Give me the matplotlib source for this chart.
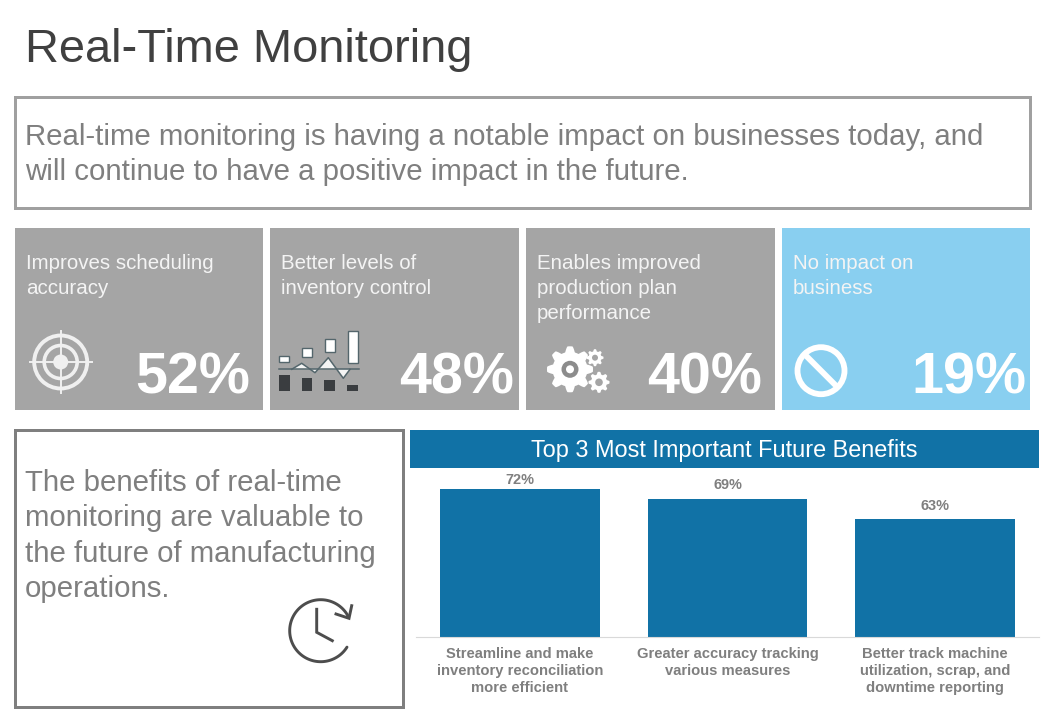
import numpy as np
import matplotlib
matplotlib.use("Agg")
import matplotlib.pyplot as plt
from matplotlib.patches import Rectangle, Circle, Polygon

plt.rcParams['font.family'] = ['Liberation Sans', 'DejaVu Sans']

# ---- data ----
title = "Real-Time Monitoring"
intro_lines = ["Real-time monitoring is having a notable impact on businesses today, and",
               "will continue to have a positive impact in the future."]
card_labels = [["Improves scheduling", "accuracy"],
               ["Better levels of", "inventory control"],
               ["Enables improved", "production plan", "performance"],
               ["No impact on", "business"]]
card_values = [52, 48, 40, 19]
side_lines = ["The benefits of real-time", "monitoring are valuable to",
              "the future of manufacturing", "operations."]
chart_title = "Top 3 Most Important Future Benefits"
bar_labels = ["Streamline and make\ninventory reconciliation\nmore efficient",
              "Greater accuracy tracking\nvarious measures",
              "Better track machine\nutilization, scrap, and\ndowntime reporting"]
bar_values = [72, 69, 63]

GREY = "#a5a5a5"; BLUE = "#89cff0"; TXT = "#7f7f7f"; DARK = "#404040"; BAR = "#1172a6"
W, H = 1054, 720
px = 0.72  # px -> pt at dpi 100

fig = plt.figure(figsize=(W/100, H/100), dpi=100, facecolor="white")
bg = fig.add_axes([0, 0, 1, 1])
bg.set_xlim(0, W); bg.set_ylim(H, 0); bg.axis("off")

def T(x, y, s, size, color, **kw):
    bg.text(x, y, s, fontsize=size*px, color=color, va="baseline", **kw)

T(25, 62, title, 47, DARK)

bg.add_patch(Rectangle((15, 96.5), 1015, 111.5, fc="white", ec="#a0a0a0", lw=2.16))
for y, s in zip([145, 180], intro_lines):
    T(25, y, s, 29.35, TXT)

# cards
cx0 = [15, 270, 526, 782]; cx1 = [263, 519, 775, 1030]
vx = [250.5, 514.5, 762.5, 1026.5]
for i in range(4):
    c = BLUE if i == 3 else GREY
    bg.add_patch(Rectangle((cx0[i], 228), cx1[i]-cx0[i], 182, fc=c, ec="none"))
    for j, s in enumerate(card_labels[i]):
        T(cx0[i]+11, 269+25*j, s, 20.5, "#f4f4f4")
    T(vx[i], 393, f"{card_values[i]}%", 57.5, "white", ha="right", fontweight="bold")

# target icon
tc = "#f0f0f0"; tx, ty = 60.7, 362
bg.add_patch(Circle((tx, ty), 26.5, fc="none", ec=tc, lw=2.8))
bg.add_patch(Circle((tx, ty), 16.5, fc="none", ec=tc, lw=2.6))
bg.add_patch(Circle((tx, ty), 7.5, fc=tc, ec="none"))
bg.plot([tx-31, tx+31], [ty, ty], color=tc, lw=1.4)
bg.plot([tx, tx], [ty-31, ty+31], color=tc, lw=1.4)

# mini chart icon
edge = "#54666c"; dk = "#3a3d40"
for x0, y0, y1 in [(279, 355.7, 362), (302, 347.7, 357), (325, 338.7, 351.7), (347.5, 331.3, 362.7)]:
    bg.add_patch(Rectangle((x0, y0), 10, y1-y0, fc="white", ec=edge, lw=1))
for x0, y0 in [(279, 375.3), (301.7, 378.3), (324.3, 380.3), (347.3, 385.3)]:
    bg.add_patch(Rectangle((x0, y0), 10.5, 390.7-y0, fc=dk, ec="none"))
zx = [291.7, 301.7, 315, 328.3, 343.3, 350]
zy = [369.3, 363.3, 372.7, 357.7, 378.3, 369.3]
bg.add_patch(Polygon(list(zip(zx, zy)), fc="#f4f4f4", ec="none"))
bg.plot(zx, zy, color=edge, lw=1.1)
bg.plot([279, 359], [369.3, 369.3], color=edge, lw=1.1)

# gears
def gear(cx, cy, r, teeth, hole, fc, hole_c, ring=None):
    a = np.linspace(0, 2*np.pi, teeth*40, endpoint=False)
    rr = r*(0.88 + 0.12*np.clip(1.6*np.cos(teeth*a), -1, 1))
    bg.add_patch(Polygon(np.c_[cx+rr*np.cos(a), cy+rr*np.sin(a)], fc=fc, ec="none"))
    bg.add_patch(Circle((cx, cy), hole, fc=hole_c, ec="none"))
    if ring:
        bg.add_patch(Circle((cx, cy), ring, fc=fc, ec="none"))
gear(570, 369.3, 23, 8, 8.5, "white", "#8c8c8c", 4)
gear(595, 357.7, 8.5, 8, 3, "white", GREY)
gear(599, 382.3, 10.5, 8, 3.8, "white", GREY)

# no-entry icon
nx, ny, nr = 821, 370.7, 23.5
bg.add_patch(Circle((nx, ny), nr, fc="none", ec="white", lw=4.2))
d = nr*np.cos(np.pi/4)
bg.plot([nx-d, nx+d], [ny-d, ny+d], color="white", lw=4.2, solid_capstyle="butt")

# lower-left box
bg.add_patch(Rectangle((15, 429.5), 388, 277, fc="white", ec="#7f7f7f", lw=2.16))
for y, s in zip([491, 526, 562, 597], side_lines):
    T(25, y, s, 29.35, TXT)

# clock icon
ck = "#4d4d4d"; ccx, ccy, cr = 320.7, 630.7, 31
ang = np.radians(np.linspace(32, 333, 120))
bg.plot(ccx+cr*np.cos(ang), ccy+cr*np.sin(ang), color=ck, lw=2.1, solid_capstyle="round")
bg.plot([351.7, 349, 336], [605.7, 618.3, 614], color=ck, lw=2.1, solid_joinstyle="miter")
bg.plot([316.7, 316.7, 332.3], [609.3, 632.3, 640.7], color=ck, lw=2.1, solid_joinstyle="miter")

# chart header
bg.add_patch(Rectangle((410, 430), 629, 38, fc=BAR, ec="none"))
bg.text(724, 450.5, chart_title, fontsize=23.5*px, color="white", ha="center", va="center")

# bar chart: truncated value axis
ax_l, ax_r, ax_t, ax_b = 416, 1039, 470, 637
ax = fig.add_axes([ax_l/W, 1-ax_b/H, (ax_r-ax_l)/W, (ax_b-ax_t)/H])
ax.patch.set_alpha(0)
scale = 3.33  # px per percentage point in the source's truncated axis
ymin = bar_values[0]-(637-489)/scale
ax.set_ylim(ymin, ymin+(ax_b-ax_t)/scale)
ax.set_xlim(-0.5, 2.5)
xs = np.arange(len(bar_values))
bars = ax.bar(xs, bar_values, width=0.77, color=BAR)
for bar, v, pad in zip(bars, bar_values, [1.5, 5.0, 4.3]):
    ax.annotate(f"{v}%", (bar.get_x()+bar.get_width()/2, v), xytext=(0, pad),
                textcoords="offset points", ha="center", va="bottom",
                fontsize=14.5*px, fontweight="bold", color=TXT, annotation_clip=False)
ax.set_xticks(xs, bar_labels, fontsize=14.7*px, fontweight="bold", color=TXT, linespacing=1.27)
ax.tick_params(axis="x", length=0, pad=7.5)
ax.set_yticks([])
for s in ["top", "left", "right"]:
    ax.spines[s].set_visible(False)
ax.spines["bottom"].set_color("#d9d9d9")
ax.spines["bottom"].set_linewidth(0.8)

fig.savefig("out.png", dpi=100, facecolor="white")
